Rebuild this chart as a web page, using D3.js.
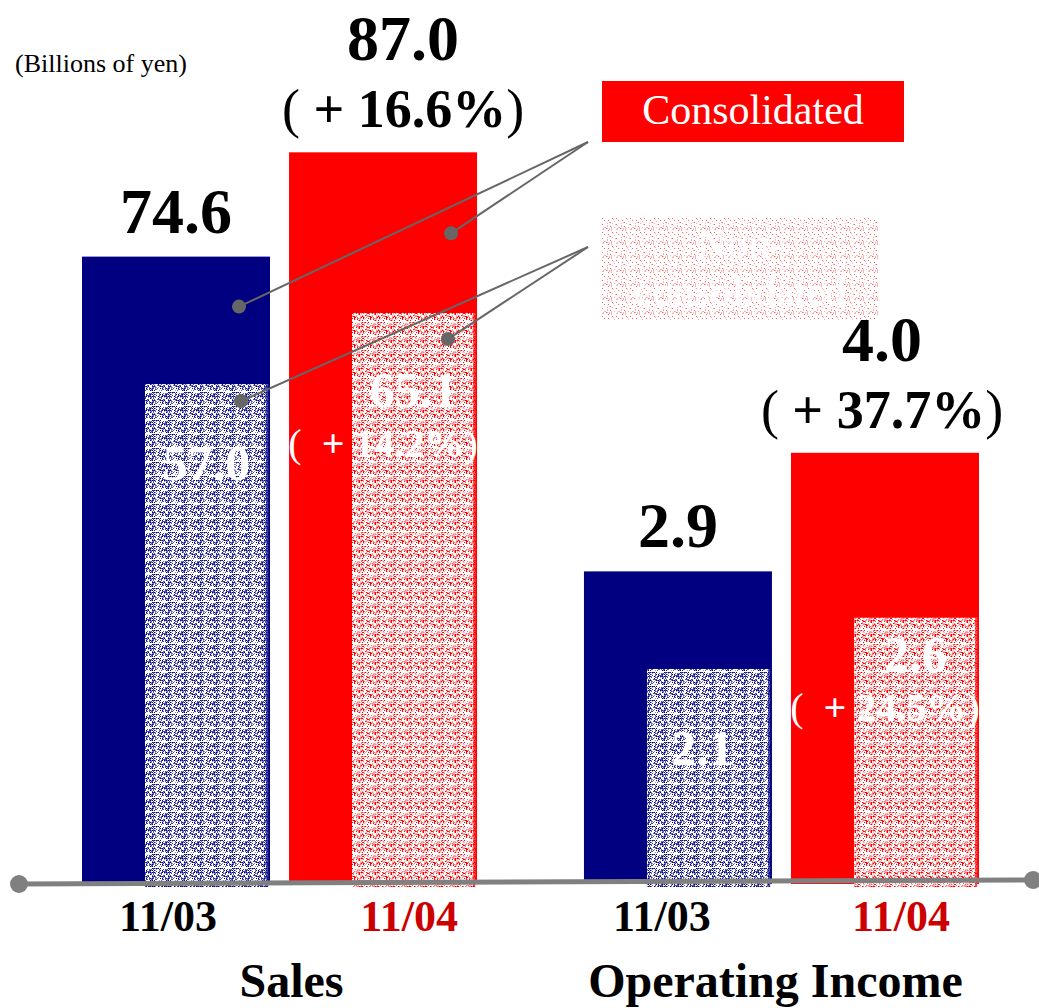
<!DOCTYPE html>
<html>
<head>
<meta charset="utf-8">
<script src="https://cdn.jsdelivr.net/npm/d3@7"></script>
<style>
  body { margin: 0; background: #fff; }
  svg { display: block; }
  text { font-family: "Liberation Serif", "Times New Roman", serif; }
</style>
</head>
<body>
<div id="chart"></div>
<script>
// chart values
const groups = ["Sales", "Operating Income"];
const periods = ["11/03", "11/04"];
const consolidated = [[74.6, 87.0], [2.9, 4.0]];
const nonConsolidated = [[57.0, 65.1], [2.1, 2.6]];
const consGrowth = [[null, "16.6%"], [null, "37.7%"]];
const nonGrowth = [[null, "14.2%"], [null, "24.5%"]];
const legendLabels = ["Consolidated", "Non-consolidated"];
const unitLabel = "(Billions of yen)";

const W = 1039, H = 1008, base = 884;
const navy = "#000080", red = "#ff0000", darkRed = "#cc0000";

let svg = d3.select("#chart").append("svg").attr("width", W).attr("height", H);
let defs = svg.append("defs");

// pixel-ish textures for the non-consolidated bars
function makePattern(id, colors, density, w, h, stripe) {
  let p = defs.append("pattern").attr("id", id)
    .attr("patternUnits", "userSpaceOnUse").attr("width", w).attr("height", h);
  p.append("rect").attr("width", w).attr("height", h).attr("fill", "#fff");
  for (let y = 0; y < h; y++) {
    if (stripe && y === h - 1) continue;
    for (let x = 0; x < w; x++) {
      let hsh = (((x * 73856093) ^ (y * 19349663) ^ (x * y * 83492791)) >>> 0) % 100;
      if (hsh < density) {
        p.append("rect").attr("x", x).attr("y", y).attr("width", 1).attr("height", 1)
          .attr("fill", colors[hsh % colors.length]);
      }
    }
  }
}
makePattern("navyTex", [navy, "#4a4aa8", navy, "#8c8cc8"], 46, 16, 14, true);
makePattern("redTex", [red, "#ff7070", "#ffb0b0"], 44, 16, 14, true);
makePattern("legendTex", ["#ff6060", "#ffb0b0"], 16, 14, 14, false);

// scales
let x = d3.scaleBand().domain(groups).range([82, 979]).paddingInner(0.213).paddingOuter(0);
let xSub = d3.scaleBand().domain(periods).range([0, x.bandwidth()]).paddingInner(0.092);
let yCons = [
  d3.scaleLinear().domain([0, 100]).range([base, base - 841]),
  d3.scaleLinear().domain([0, 5]).range([base, base - 539])
];
let yNon = [
  d3.scaleLinear().domain([0, 100]).range([base, base - 877]),
  d3.scaleLinear().domain([0, 5]).range([base, base - 512])
];

const boldFont = "bold";
let innerDy = [94, 53];
let topShift = [20, -3];
let periodShift = [[-8, 26], [-16, 16]];
let groupShift = [12, -6];

groups.forEach(function (g, gi) {
  let gx = x(g);
  periods.forEach(function (p, pi) {
    let bx = gx + xSub(p), bw = xSub.bandwidth();
    let cv = consolidated[gi][pi], nv = nonConsolidated[gi][pi];
    let topC = yCons[gi](cv), topN = yNon[gi](nv);
    let col = pi === 0 ? navy : red;

    svg.append("rect").attr("x", bx).attr("y", topC).attr("width", bw).attr("height", base - topC).attr("fill", col);

    let ix = bx + bw * 0.335, iw = bw * 0.655;
    svg.append("rect").attr("x", ix).attr("y", topN).attr("width", iw).attr("height", base + 3 - topN)
      .attr("fill", pi === 0 ? "url(#navyTex)" : "url(#redTex)");
    svg.append("rect").attr("x", ix + iw - 2).attr("y", topN).attr("width", 2).attr("height", base + 3 - topN)
      .attr("fill", col).attr("opacity", 0.7);

    // consolidated value labels
    let cx = bx + bw / 2;
    if (consGrowth[gi][pi]) {
      let lx = cx + topShift[gi];
      svg.append("text").attr("x", lx).attr("y", topC - 92).attr("text-anchor", "middle")
        .attr("font-size", 64).attr("font-weight", boldFont).text(d3.format(".1f")(cv));
      let t = svg.append("text").attr("x", lx).attr("y", topC - 25).attr("text-anchor", "middle")
        .attr("font-size", 54).attr("font-weight", boldFont);
      t.append("tspan").attr("font-weight", "normal").text("( ");
      t.append("tspan").text("+ " + consGrowth[gi][pi]);
      t.append("tspan").attr("font-weight", "normal").text(")");
    } else {
      svg.append("text").attr("x", cx).attr("y", topC - 24).attr("text-anchor", "middle")
        .attr("font-size", 64).attr("font-weight", boldFont).text(d3.format(".1f")(cv));
    }

    // non-consolidated labels
    let icx = ix + iw / 2;
    if (nonGrowth[gi][pi]) {
      svg.append("text").attr("x", icx).attr("y", topN + innerDy[gi]).attr("text-anchor", "middle")
        .attr("fill", "#fff").attr("font-size", 50).attr("font-weight", boldFont).text(d3.format(".1f")(nv));
      let t = svg.append("text").attr("x", cx).attr("y", topN + innerDy[gi] + 50).attr("text-anchor", "middle")
        .attr("fill", "#fff").attr("font-size", 40).attr("font-weight", boldFont);
      t.append("tspan").attr("font-weight", "normal").text("(\u2002");
      t.append("tspan").text("+ " + nonGrowth[gi][pi]);
      t.append("tspan").attr("font-weight", "normal").text(")");
    } else {
      svg.append("text").attr("x", icx - (gi === 1 ? 6 : 0)).attr("y", topN + 96).attr("text-anchor", "middle")
        .attr("fill", "#fff").attr("font-size", 50).attr("font-weight", boldFont).text(d3.format(".1f")(nv));
    }

    // period labels
    svg.append("text").attr("x", cx + periodShift[gi][pi]).attr("y", base + 47).attr("text-anchor", "middle")
      .attr("font-size", 44).attr("font-weight", boldFont).attr("fill", pi === 0 ? "#000" : darkRed).text(p);
  });

  svg.append("text").attr("x", gx + x.bandwidth() / 2 + groupShift[gi]).attr("y", base + 113).attr("text-anchor", "middle")
    .attr("font-size", 48).attr("font-weight", boldFont).text(g);
});

// base line
svg.append("line").attr("x1", 19).attr("y1", base).attr("x2", 1033).attr("y2", base - 4)
  .attr("stroke", "#808080").attr("stroke-width", 5);
svg.append("circle").attr("cx", 19).attr("cy", base).attr("r", 9).attr("fill", "#808080");
svg.append("circle").attr("cx", 1033).attr("cy", base - 4).attr("r", 9).attr("fill", "#808080");

// unit
svg.append("text").attr("x", 15).attr("y", 72).attr("font-size", 26).text(unitLabel);

// legend
svg.append("rect").attr("x", 602).attr("y", 81).attr("width", 302).attr("height", 61).attr("fill", red);
svg.append("text").attr("x", 753).attr("y", 124).attr("text-anchor", "middle").attr("fill", "#fff")
  .attr("font-size", 42).text(legendLabels[0]);
svg.append("rect").attr("x", 602).attr("y", 217).attr("width", 276).attr("height", 103).attr("fill", "url(#legendTex)");
let lt = svg.append("text").attr("x", 740).attr("text-anchor", "middle").attr("fill", "#fff").attr("font-size", 42);
lt.append("tspan").attr("x", 740).attr("y", 258).text("Non-");
lt.append("tspan").attr("x", 740).attr("y", 305).text("consolidated");

// callout lines from the legend to the Sales bars
let sx = x("Sales");
let calls = [
  { from: [588, 142], px: 0, cons: true, dx: 157, dy: 50 },
  { from: [588, 142], px: 1, cons: true, dx: 162, dy: 81 },
  { from: [588, 247], px: 0, cons: false, dx: 96, dy: 17 },
  { from: [588, 247], px: 1, cons: false, dx: 96, dy: 26 }
];
calls.forEach(function (c) {
  let p = periods[c.px];
  let bx = sx + xSub(p);
  let bw = xSub.bandwidth();
  let tx = c.cons ? bx + c.dx : bx + bw * 0.335 + c.dx;
  let ty = c.cons ? yCons[0](consolidated[0][c.px]) + c.dy : yNon[0](nonConsolidated[0][c.px]) + c.dy;
  svg.append("line").attr("x1", c.from[0]).attr("y1", c.from[1]).attr("x2", tx).attr("y2", ty)
    .attr("stroke", "#666").attr("stroke-width", 2);
  svg.append("circle").attr("cx", tx).attr("cy", ty).attr("r", 7).attr("fill", "#666");
});
</script>
</body>
</html>
